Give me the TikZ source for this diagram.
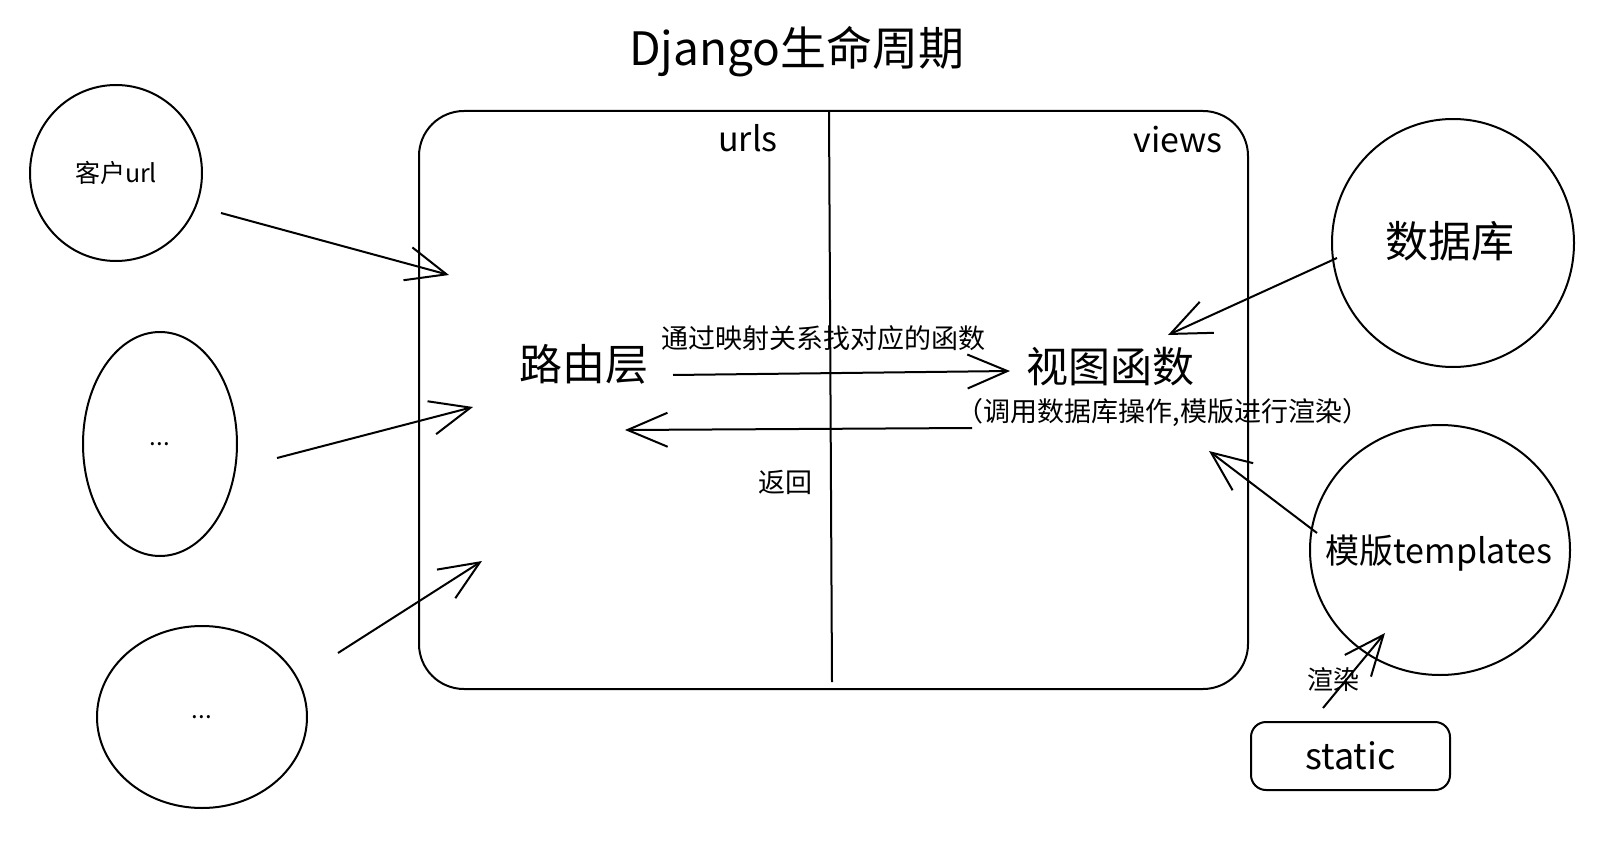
\documentclass[tikz,border=0pt]{standalone}
\usepackage{fontspec}
\setmainfont{Noto Sans CJK SC}
\usetikzlibrary{arrows.meta}
\usetikzlibrary{shapes.geometric}
\newcommand{\txtsize}[1]{\fontsize{#1}{#1}\selectfont}

\begin{document}
\begin{tikzpicture}[x=1pt, y=-1pt, line width=2pt,
  blob/.style={draw, ellipse, inner sep=0pt},
  sketch/.style={-{Straight Barb[length=40pt,width=34pt]}},
  lbl/.style={inner sep=0pt}]
\useasboundingbox (0,0) rectangle (1607,848);
% title
\node[lbl] (title) at (797,52) {\txtsize{46}Django生命周期};
% clients on the left
\node[blob, minimum width=172, minimum height=176] (client) at (116,173) {};
\node[lbl] (clienttext) at (client) {\txtsize{25}客户url};
\node[blob, minimum width=154, minimum height=224] (more) at (160,444) {};
\node[lbl] (moretext) at (more) {\txtsize{24}...};
\node[blob, minimum width=210, minimum height=182] (most) at (202,717) {};
\node[lbl] (mosttext) at (most) {\txtsize{24}...};
% the django frame
\node[draw, rounded corners=45, minimum width=829, minimum height=578] (frame) at (833.5,400) {};
\coordinate (divtop) at (829,111);
\coordinate (divbot) at (832,682);
\draw (divtop) -- (divbot);
\node[lbl] (urls) at (748,138) {\txtsize{34}urls};
\node[lbl] (views) at (1178,140) {\txtsize{34}views};
\node[lbl] (router) at (584,364) {\txtsize{43}路由层};
\node[lbl] (view) at (1110,367) {\txtsize{42}视图函数};
\node[lbl] (viewnote) at (1163,413) {\txtsize{27}（调用数据库操作,模版进行渲染）};
\node[lbl] (maplbl) at (823,338) {\txtsize{27}通过映射关系找对应的函数};
\node[lbl] (backlbl) at (785,482) {\txtsize{27}返回};
% right side
\node[blob, minimum width=242, minimum height=248] (db) at (1453,243) {};
\node[lbl] (dbtext) at (1450,241) {\txtsize{43}数据库};
\node[blob, minimum width=260, minimum height=250] (tpl) at (1440,550) {};
\node[lbl] (tpltext) at (1439,553) {\txtsize{34}模版templates};
\node[draw, rounded corners=15, minimum width=199, minimum height=68] (static) at (1350.5,756) {\txtsize{36}static};
\node[lbl] (renderlbl) at (1333,680) {\txtsize{26}渲染};
% arrow ends
\coordinate (a1s) at (221,213); \coordinate (a1e) at (449,275);
\coordinate (a2s) at (277,458); \coordinate (a2e) at (473,407);
\coordinate (a3s) at (338,653); \coordinate (a3e) at (482,561);
\coordinate (fws) at (673,375); \coordinate (fwe) at (1010,371);
\coordinate (bks) at (972,428); \coordinate (bke) at (625,430);
\coordinate (dbs) at (1337,258); \coordinate (dbe) at (1168,335);
\coordinate (tps) at (1317,533); \coordinate (tpe) at (1209,451);
\coordinate (sts) at (1323,708); \coordinate (ste) at (1385,633);
\draw[sketch] (a1s) -- (a1e);
\draw[sketch] (a2s) -- (a2e);
\draw[sketch] (a3s) -- (a3e);
\draw[sketch] (fws) -- (fwe);
\draw[sketch] (bks) -- (bke);
\draw[sketch] (dbs) -- (dbe);
\draw[sketch] (tps) -- (tpe);
\draw[sketch] (sts) -- (ste);
\end{tikzpicture}
\end{document}
